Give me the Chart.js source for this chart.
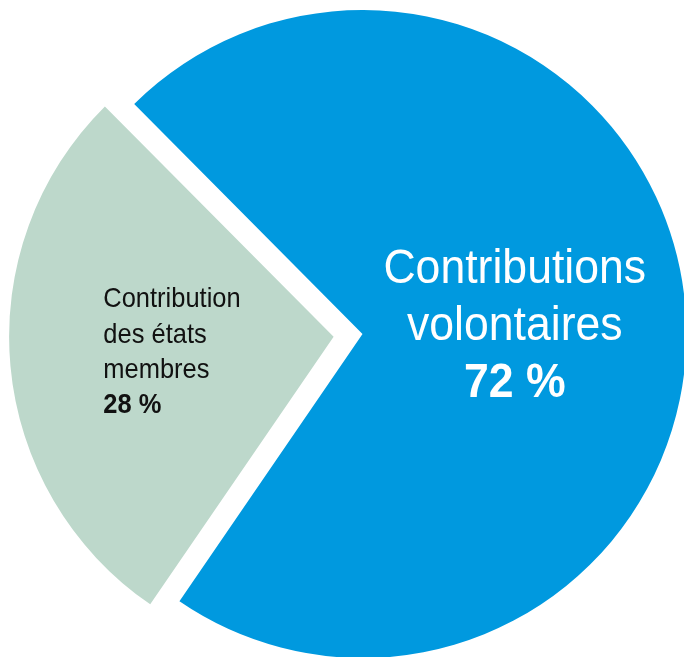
<!DOCTYPE html>
<html lang="fr">
<head>
<meta charset="utf-8">
<title>Répartition des contributions</title>
<script src="https://cdn.jsdelivr.net/npm/chart.js@4/dist/chart.umd.min.js"></script>
<style>
  html, body { margin: 0; padding: 0; background: #fff; }
  #wrap { position: relative; width: 684px; height: 657px; }
</style>
</head>
<body>
<div id="wrap"><canvas id="pieChart"></canvas></div>
<script>
// shares of the budget, in percent
var categories = ["Contributions volontaires", "Contribution des états membres"];
var shares = [72, 28];
var sliceColors = ["#0099df", "#bdd8cb"];
// text printed inside each slice (the share follows, in bold)
var sliceLabels = [
    ["Contributions", "volontaires"],
    ["Contribution", "des états", "membres"]
];

var labelFont = "'Liberation Sans', Arial, sans-serif";
var narrow = 0.91; // squeeze glyphs to get a condensed face

function narrowText(ctx, text, x, y) {
    ctx.save();
    ctx.translate(x, y);
    ctx.scale(narrow, 1);
    ctx.fillText(text, 0, 0);
    ctx.restore();
}

// writes the labels inside the slices, anchored on the pie centre
var sliceText = {
    id: "sliceText",
    afterDatasetsDraw: function (chart) {
        var ctx = chart.ctx;
        var arcs = chart.getDatasetMeta(0).data;
        ctx.save();
        ctx.textBaseline = "alphabetic";

        // big slice: centred block, white
        var a = arcs[0];
        var cx = a.x + a.outerRadius * 0.47;
        var y = a.y - 51;
        ctx.fillStyle = "#ffffff";
        ctx.textAlign = "center";
        ctx.font = "49px " + labelFont;
        sliceLabels[0].forEach(function (line) {
            narrowText(ctx, line, cx, y);
            y += 57;
        });
        ctx.font = "bold 49px " + labelFont;
        narrowText(ctx, shares[0] + " %", cx, y);

        // small slice: left aligned block, black
        var b = arcs[1];
        var lx = b.x - b.outerRadius * 0.8;
        var ly = b.y - 26.7;
        ctx.fillStyle = "#111111";
        ctx.textAlign = "left";
        ctx.font = "28px " + labelFont;
        sliceLabels[1].forEach(function (line) {
            narrowText(ctx, line, lx, ly);
            ly += 35.2;
        });
        ctx.font = "bold 28px " + labelFont;
        narrowText(ctx, shares[1] + " %", lx, ly);

        ctx.restore();
    }
};

var chart1 = new Chart(document.getElementById("pieChart"), {
    type: "pie",
    data: {
        labels: categories,
        datasets: [
            {
                data: shares,
                backgroundColor: sliceColors,
                borderWidth: 0,
                // arcs translate by a quarter of this value
                offset: [0, 116]
            }
        ]
    },
    options: {
        responsive: true,
        maintainAspectRatio: false,
        animation: false,
        rotation: -44.8,
        radius: 324,
        layout: {
            padding: { left: 41, top: 11, right: 0, bottom: 0 }
        },
        plugins: {
            legend: { display: false },
            tooltip: { enabled: false }
        }
    },
    plugins: [sliceText]
});
</script>
</body>
</html>
